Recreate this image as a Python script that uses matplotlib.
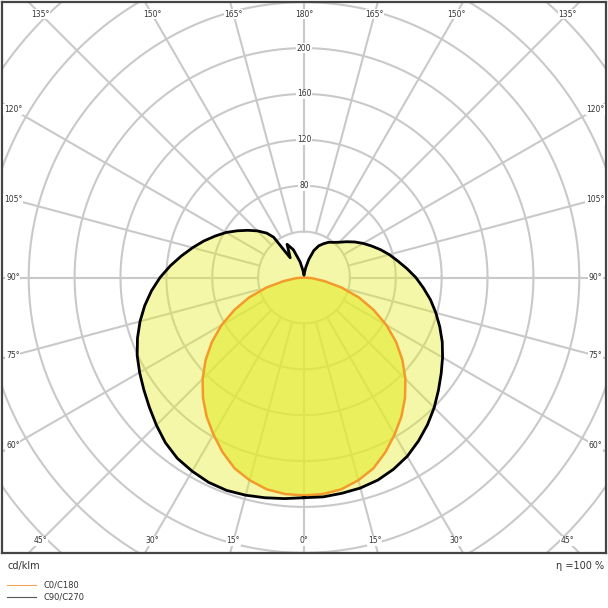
import numpy as np
import matplotlib
matplotlib.use("Agg")
import matplotlib.pyplot as plt
from matplotlib.lines import Line2D

# ---------------- data (cd/klm) ----------------
c0_angles = [0, 5, 10, 15, 20, 25, 30, 35, 40, 45, 50, 55, 60, 65, 70, 75, 80, 85, 90]
c0_values = [190, 189.5, 187.5, 183, 177, 168, 158, 148, 137, 125, 112, 98, 83, 67, 51, 34, 18, 7, 0]

c90_angles = [0, 5, 10, 15, 20, 25, 30, 35, 40, 45, 50, 55, 60, 65, 70, 75, 80, 85, 90,
              95, 100, 105, 110, 115, 120, 125, 130, 135, 140, 145, 150, 155, 160, 165, 170, 175, 180]
c90_values = [192, 192, 191, 190, 188, 184.5, 180, 174, 167.5, 160.5, 153, 146, 139.5, 133, 126, 119, 112, 104.5, 97.5,
              90, 83, 77, 71, 65, 59.5, 54, 48.5, 43.5, 40, 37.5, 34, 30.5, 25, 16.5, 9, 4, 2]

c270_angles = [0, 5, 10, 15, 20, 25, 30, 35, 40, 45, 50, 55, 60, 65, 70, 75, 80, 85, 90,
               95, 100, 105, 110, 115, 120, 125, 130, 135, 140, 143, 144, 145, 153, 159, 166, 172, 180]
c270_values = [192, 193.5, 195, 196.5, 197.5, 197, 195, 192.5, 188, 182, 176, 170.5, 165.5, 160.5, 154.5, 148, 141, 133.5, 125.5,
               117, 108.5, 100.5, 93, 85.5, 78.5, 71, 64, 57.5, 50.5, 44, 28, 21, 32.5, 26, 14, 6, 2]

ring_values = [40, 80, 120, 160, 200, 240, 280, 320, 360, 400]
ring_labels = [80, 120, 160, 200]
angle_ticks = list(range(0, 181, 15))

legend_labels = ["C0/C180", "C90/C270"]
unit_label = "cd/klm"
eff_label = "η =100 %"

# ---------------- figure ----------------
W = H = 608
fig = plt.figure(figsize=(W / 100, H / 100), dpi=100)
ax = fig.add_axes([2 / W, 55 / H, 604 / W, 551 / H])
scale = 1.147  # px per cd
xl = 302 / scale
yl = 275.5 / scale
ax.set_xlim(-xl, xl)
ax.set_ylim(-yl, yl)
ax.set_xticks([])
ax.set_yticks([])
for s in ax.spines.values():
    s.set_color("#444444")
    s.set_linewidth(1.6)

grid_c = "#c9c9c9"
grid_lw = 1.5
t = np.linspace(0, 2 * np.pi, 720)
for r in ring_values:
    ax.plot(r * np.cos(t), r * np.sin(t), color=grid_c, lw=grid_lw, zorder=1)
for a in range(0, 360, 15):
    ar = np.deg2rad(a)
    dx, dy = np.sin(ar), -np.cos(ar)
    ax.plot([ring_values[0] * dx, 600 * dx], [ring_values[0] * dy, 600 * dy],
            color=grid_c, lw=grid_lw, zorder=1)


def to_xy(angles, values, side):
    a = np.deg2rad(np.asarray(angles, float))
    v = np.asarray(values, float)
    return side * v * np.sin(a), -v * np.cos(a)


# C0/C180 (symmetric)
x0r, y0r = to_xy(c0_angles, c0_values, 1)
x0l, y0l = to_xy(c0_angles, c0_values, -1)
xo = np.concatenate([x0r, x0l[::-1]])
yo = np.concatenate([y0r, y0l[::-1]])

# C90/C270
x9, y9 = to_xy(c90_angles, c90_values, 1)
x27, y27 = to_xy(c270_angles, c270_values, -1)
xb = np.concatenate([x9, x27[::-1]])
yb = np.concatenate([y9, y27[::-1]])

fill_c = (228 / 255, 236 / 255, 45 / 255)
ax.fill(xb, yb, color=fill_c, alpha=0.42, lw=0, zorder=2)
ax.fill(xo, yo, color=fill_c, alpha=0.6, lw=0, zorder=3)
ax.plot(xo, yo, color="#f39a2a", lw=1.8, zorder=4, solid_joinstyle="round")
ax.plot(xb, yb, color="#000000", lw=2.0, zorder=5, solid_joinstyle="round")

# ring labels
for r in ring_labels:
    ax.text(0, r, str(r), ha="center", va="center", fontsize=5.5, color="#333333",
            bbox=dict(facecolor="white", edgecolor="none", pad=0.6), zorder=6)

# angle labels
mx = 9.5
my = 10.5
for a in angle_ticks:
    sides = [1] if a in (0, 180) else [1, -1]
    for sd in sides:
        ar = np.deg2rad(a)
        dx, dy = sd * np.sin(ar), -np.cos(ar)
        cands = []
        if abs(dx) > 1e-9:
            cands.append((xl - mx) / abs(dx))
        if abs(dy) > 1e-9:
            cands.append((yl - my) / abs(dy))
        tt = min(cands)
        ax.text(tt * dx, tt * dy, f"{a}°", ha="center", va="center", fontsize=5.5,
                color="#333333", bbox=dict(facecolor="white", edgecolor="none", pad=0.5),
                zorder=6)

# bottom texts
fig.text(7 / W, 1 - 566 / H, unit_label, ha="left", va="center", fontsize=7, color="#333333")
fig.text(604 / W, 1 - 566 / H, eff_label, ha="right", va="center", fontsize=7, color="#333333")

leg_colors = ["#f5a45c", "#555555"]
leg_y = [585, 597]
for lab, col, yy in zip(legend_labels, leg_colors, leg_y):
    fig.add_artist(Line2D([7 / W, 36 / W], [1 - yy / H, 1 - yy / H], color=col, lw=0.8))
    fig.text(43 / W, 1 - yy / H, lab, ha="left", va="center", fontsize=6, color="#333333")

fig.savefig("out.png", dpi=100)
